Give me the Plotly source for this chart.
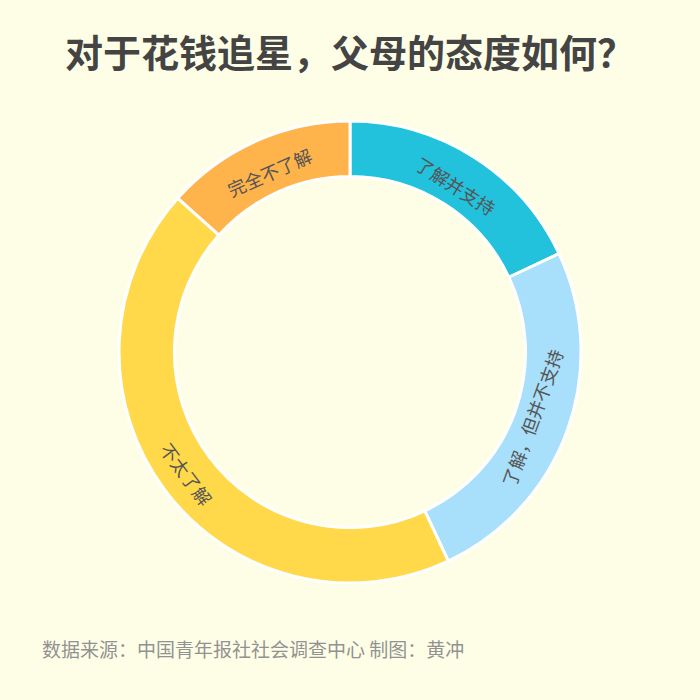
import math
import plotly.graph_objects as go

labels = ["了解并支持", "了解，但并不支持", "不太了解", "完全不了解"]
values = [18.0, 25.0, 43.6, 13.4]
colors = ["#22C1DC", "#A8DFFA", "#FFD94A", "#FFB34B"]

title = "对于花钱追星，父母的态度如何？"
source = "数据来源：中国青年报社社会调查中心 制图：黄冲"

bg = "#FEFEE6"
font = "Noto Sans CJK SC"
label_size = 18
hole = 0.76

W, H = 700, 700
mt, mb = 121, 117
plot_h = H - mt - mb
R = plot_h / 2

# label for the large slice crossing the bottom is drawn as an annotation
# (plotly would otherwise lay it horizontally at 6 o'clock)
special = {"不太了解"}
pie_text = ["" if l in special else l for l in labels]

fig = go.Figure(go.Pie(
    labels=labels,
    values=values,
    text=pie_text,
    textinfo="text",
    hole=hole,
    sort=False,
    direction="clockwise",
    rotation=0,
    marker=dict(colors=colors, line=dict(color="#FFFFFF", width=3)),
    insidetextorientation="tangential",
    textposition="inside",
    textfont=dict(family=font, size=label_size, color="#555555"),
    showlegend=False,
))

annotations = [
    dict(text="<b>" + title + "</b>", x=0.5, xref="paper", yref="paper",
         y=1 + (mt - 51) / plot_h, xanchor="center", yanchor="middle", showarrow=False,
         font=dict(family=font, size=38, color="#444444")),
    dict(text=source, x=40 / W, xref="paper", yref="paper",
         y=-(648 - (H - mb)) / plot_h, xanchor="left", yanchor="middle", showarrow=False,
         font=dict(family=font, size=19, color="#929292")),
]

total = sum(values)
cum = 0.0
rmid = R * (1 + hole) / 2
for lab, v in zip(labels, values):
    a0 = cum / total * 360
    cum += v
    a1 = cum / total * 360
    if lab in special:
        mid = (a0 + a1) / 2
        th = math.radians(mid)
        px = rmid * math.sin(th)
        py = rmid * math.cos(th)
        rot = mid - 180 if 90 < mid < 270 else (mid - 360 if mid >= 270 else mid)
        annotations.append(dict(
            text=lab, x=0.5 + px / W, y=0.5 + py / plot_h, xref="paper", yref="paper",
            xanchor="center", yanchor="middle", showarrow=False, textangle=rot,
            font=dict(family=font, size=label_size, color="#555555")))

fig.update_layout(
    width=W, height=H,
    paper_bgcolor=bg, plot_bgcolor=bg,
    margin=dict(l=0, r=0, t=mt, b=mb),
    annotations=annotations,
)

fig.write_html("out.html", config={"displayModeBar": False},
               post_script="document.body.style.margin='0';")
